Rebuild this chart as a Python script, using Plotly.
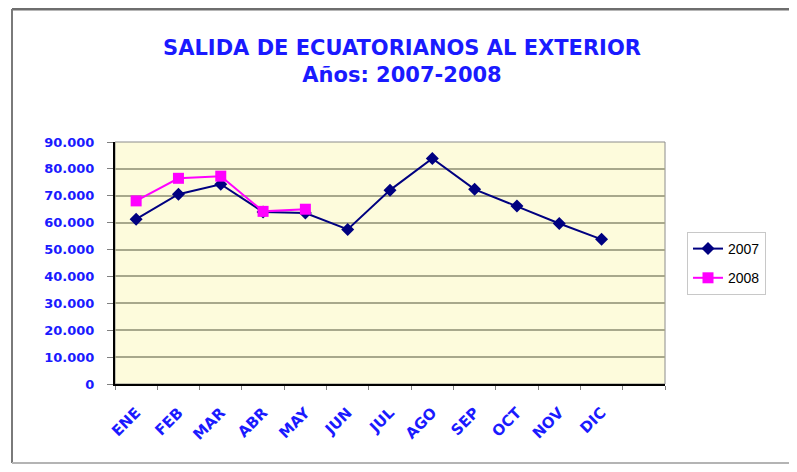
import plotly.graph_objects as go

months = ["ENE", "FEB", "MAR", "ABR", "MAY", "JUN", "JUL", "AGO", "SEP", "OCT", "NOV", "DIC"]
months_2008 = ["ENE", "FEB", "MAR", "ABR", "MAY"]
values_2007 = [61300, 70600, 74300, 64000, 63600, 57500, 72100, 83900, 72400, 66200, 59700, 53800]
values_2008 = [68100, 76500, 77300, 64200, 65000]
category_slots = months + ["\u200b"]
y_ticks = [0, 10000, 20000, 30000, 40000, 50000, 60000, 70000, 80000, 90000]

BLUE = "#1a1aff"
FONT = "DejaVu Sans"

fig = go.Figure()
fig.add_trace(go.Scatter(
    x=months, y=values_2007, name="2007", mode="lines+markers", legendgroup="a",
    line=dict(color="#000080", width=2),
    marker=dict(symbol="diamond", size=10, color="#000080"),
))
fig.add_trace(go.Scatter(
    x=months_2008, y=values_2008, name="2008", mode="lines+markers", legendgroup="b",
    line=dict(color="#ff00ff", width=2),
    marker=dict(symbol="square", size=11, color="#ff00ff"),
))

OFF = 8  # page body margin
W, H = 797 - 2 * OFF, 472 - 2 * OFF
L, R, T, B = 115 - OFF, 665 - OFF, 142 - OFF, 384 - OFF
pw, ph = R - L, B - T
def px(x):
    return (x - OFF - L) / pw
def py(y):
    return (B - (y - OFF)) / ph

frame_left, frame_right, frame_top, frame_bottom = px(12), px(797), py(9), py(463)

fig.update_layout(
    width=W, height=H,
    margin=dict(l=L, r=W - R, t=T, b=H - B, pad=0),
    paper_bgcolor="white",
    plot_bgcolor="#fdfbdc",
    separators=",.",
    title=dict(
        text="SALIDA DE ECUATORIANOS AL EXTERIOR<br>Años: 2007-2008",
        x=(402 - OFF) / W, xref="container", xanchor="center",
        y=1 - (55 - OFF) / H, yref="container", yanchor="middle",
        font=dict(family=FONT, size=21, color=BLUE, weight="bold"),
    ),
    showlegend=True,
    legend=dict(
        x=px(687), xanchor="left", y=py(232), yanchor="top",
        bgcolor="white", bordercolor="#c8c8c8", borderwidth=1,
        font=dict(family="Liberation Sans", size=14, color="black"),
        tracegroupgap=8,
    ),
    xaxis=dict(
        type="category", categoryorder="array", categoryarray=category_slots,
        range=[-0.5, 12.5], tickson="boundaries",
        ticks="outside", ticklen=4, tickcolor="#808080",
        tickangle=-45, ticklabelstandoff=12,
        tickfont=dict(family=FONT, size=15, color=BLUE, weight="bold"),
        showgrid=False, showline=True, linecolor="black", linewidth=2,
        zeroline=False, fixedrange=True,
    ),
    yaxis=dict(
        range=[0, 90000], tickvals=y_ticks, tickformat=",d",
        ticks="outside", ticklen=6, tickcolor="#808080",
        ticklabelstandoff=10,
        tickfont=dict(family=FONT, size=13, color=BLUE, weight="bold"),
        showgrid=True, gridcolor="#a8a88c", gridwidth=1.5,
        showline=True, linecolor="black", linewidth=2,
        zeroline=False, fixedrange=True,
    ),
    shapes=[
        dict(type="rect", xref="paper", yref="paper", x0=0, x1=1, y0=0, y1=1,
             line=dict(color="#8c8c8c", width=1), layer="below"),
        dict(type="line", xref="paper", yref="paper",
             x0=frame_left, x1=frame_right, y0=frame_top, y1=frame_top,
             line=dict(color="#6e6e6e", width=3), layer="below"),
        dict(type="line", xref="paper", yref="paper",
             x0=frame_left, x1=frame_left, y0=frame_bottom, y1=frame_top,
             line=dict(color="#7a7a7a", width=2), layer="below"),
        dict(type="line", xref="paper", yref="paper",
             x0=frame_left, x1=frame_right, y0=frame_bottom, y1=frame_bottom,
             line=dict(color="#b4b4b4", width=2), layer="below"),
    ],
)

fig.write_html("out.html")
